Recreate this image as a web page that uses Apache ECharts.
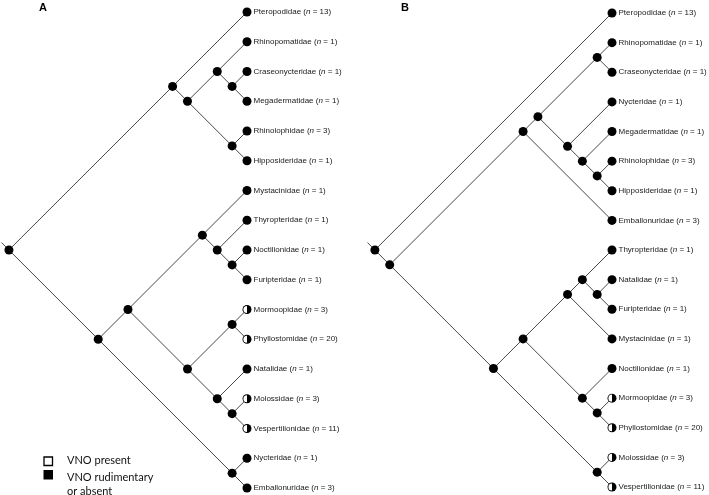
<!DOCTYPE html>
<html><head><meta charset="utf-8">
<script src="https://cdn.jsdelivr.net/npm/echarts@6/dist/echarts.min.js"></script>
<style>html,body{margin:0;padding:0;background:#fff}#c{width:709px;height:495px}</style>
</head><body><div id="c"></div>
<script>
// ---- Panel A data ----
const taxaA = ['Pteropodidae','Rhinopomatidae','Craseonycteridae','Megadermatidae','Rhinolophidae','Hipposideridae','Mystacinidae','Thyropteridae','Noctilionidae','Furipteridae','Mormoopidae','Phyllostomidae','Natalidae','Molossidae','Vespertilionidae','Nycteridae','Emballonuridae'];
const countsA = [13,1,1,1,3,1,1,1,1,1,3,20,1,3,11,1,3];
const vnoA = ['absent','absent','absent','absent','absent','absent','absent','absent','absent','absent','mixed','mixed','absent','mixed','mixed','absent','absent'];
const treeA = [[0, [[1, [2, 3]], [4, 5]]], [[[6, [7, [8, 9]]], [[10, 11], [12, [13, 14]]]], [15, 16]]];
// ---- Panel B data ----
const taxaB = ['Pteropodidae','Rhinopomatidae','Craseonycteridae','Nycteridae','Megadermatidae','Rhinolophidae','Hipposideridae','Emballonuridae','Thyropteridae','Natalidae','Furipteridae','Mystacinidae','Noctilionidae','Mormoopidae','Phyllostomidae','Molossidae','Vespertilionidae'];
const countsB = [13,1,1,1,1,3,1,3,1,1,1,1,1,3,20,3,11];
const vnoB = ['absent','absent','absent','absent','absent','absent','absent','absent','absent','absent','absent','absent','absent','mixed','mixed','mixed','mixed'];
const treeB = [0, [[[[1, 2], [3, [4, [5, 6]]]], 7], [[[[8, [9, 10]], 11], [12, [13, 14]]], [15, 16]]]];
const panelLabels = ['A','B'];
const legendLabels = ['VNO present', 'VNO rudimentary\nor absent'];

function layout(tree) {
  const edges = [], inner = [];
  function rec(n) {
    if (typeof n === 'number') return {d: 0, y: n, lo: n, hi: n};
    const ch = n.map(rec);
    const lo = Math.min(...ch.map(c => c.lo)), hi = Math.max(...ch.map(c => c.hi));
    const node = {d: (hi - lo) / 2, y: (lo + hi) / 2, lo, hi};
    ch.forEach(c => edges.push([node.d, node.y, c.d, c.y]));
    inner.push([node.d, node.y]);
    return node;
  }
  const root = rec(tree);
  edges.push([root.d, root.y, root.d + 0.25, root.y - 0.25]);
  return {edges, inner};
}

const font = "'Liberation Sans', Arial, sans-serif";
function panelSeries(tree, taxa, counts, vno, gi) {
  const L = layout(tree);
  const leaves = taxa.map((t, i) => ({value: [0, i], name: t, n: counts[i]}));
  const mixed = taxa.map((t, i) => vno[i] === 'mixed' ? [0, i] : null).filter(Boolean);
  return [
    {type: 'custom', xAxisIndex: gi, yAxisIndex: gi, clip: false, silent: true, z: 1,
     encode: {x: [0, 2], y: [1, 3]}, data: L.edges,
     renderItem: (p, api) => {
       const a = api.coord([api.value(0), api.value(1)]), b = api.coord([api.value(2), api.value(3)]);
       return {type: 'line', shape: {x1: a[0], y1: a[1], x2: b[0], y2: b[1]}, style: {stroke: '#333', lineWidth: 0.9}};
     }},
    {type: 'scatter', xAxisIndex: gi, yAxisIndex: gi, clip: false, silent: true, z: 2,
     symbolSize: 9, itemStyle: {color: '#000', opacity: 1}, data: L.inner},
    {type: 'scatter', xAxisIndex: gi, yAxisIndex: gi, clip: false, silent: true, z: 2,
     symbolSize: 9, itemStyle: {color: '#000', opacity: 1}, data: leaves,
     label: {show: true, position: 'right', distance: 2,
       formatter: p => `{a|${p.data.name} (}{i|n}{a| = ${p.data.n})}`,
       rich: {a: {fontSize: 8, fontFamily: font, color: '#1a1a1a'},
              i: {fontSize: 8, fontFamily: font, color: '#1a1a1a', fontStyle: 'italic'}}}},
    {type: 'custom', xAxisIndex: gi, yAxisIndex: gi, clip: false, silent: true, z: 3,
     encode: {x: 0, y: 1}, data: mixed,
     renderItem: (p, api) => {
       const c = api.coord([api.value(0), api.value(1)]);
       return {type: 'sector', shape: {cx: c[0], cy: c[1], r0: 0, r: 3.6, startAngle: Math.PI / 2, endAngle: Math.PI * 1.5, clockwise: true},
               style: {fill: '#fff'}};
     }}
  ];
}

const chart = echarts.init(document.getElementById('c'), null, {renderer: 'canvas'});
const ax = (extra) => Object.assign({type: 'value', show: false, splitLine: {show: false}}, extra);
const legendFont = "11px Lato, 'Open Sans', sans-serif";
chart.setOption({
  animation: false,
  backgroundColor: '#fff',
  grid: [
    {left: 0, width: 247, top: 12, height: 476},
    {left: 366, width: 246, top: 13, height: 474}
  ],
  xAxis: [ax({gridIndex: 0, min: 0, max: 8.3, inverse: true}), ax({gridIndex: 1, min: 0, max: 8.3, inverse: true})],
  yAxis: [ax({gridIndex: 0, min: 0, max: 16, inverse: true}), ax({gridIndex: 1, min: 0, max: 16, inverse: true})],
  graphic: [
    {type: 'text', left: 39, top: 2, style: {text: panelLabels[0], font: "bold 11px " + font, fill: '#000'}},
    {type: 'text', left: 401, top: 2, style: {text: panelLabels[1], font: "bold 11px " + font, fill: '#000'}},
    {type: 'rect', shape: {x: 44, y: 457, width: 8.5, height: 8.5}, style: {fill: '#fff', stroke: '#000', lineWidth: 1.3}},
    {type: 'rect', shape: {x: 43.5, y: 470, width: 9.5, height: 9.5}, style: {fill: '#000'}},
    {type: 'text', left: 67, top: 455, style: {text: legendLabels[0], font: legendFont, fill: '#111'}},
    {type: 'text', left: 67, top: 471, style: {text: legendLabels[1], font: legendFont, fill: '#111', lineHeight: 13.5}}
  ],
  series: [...panelSeries(treeA, taxaA, countsA, vnoA, 0), ...panelSeries(treeB, taxaB, countsB, vnoB, 1)]
});
</script></body></html>
